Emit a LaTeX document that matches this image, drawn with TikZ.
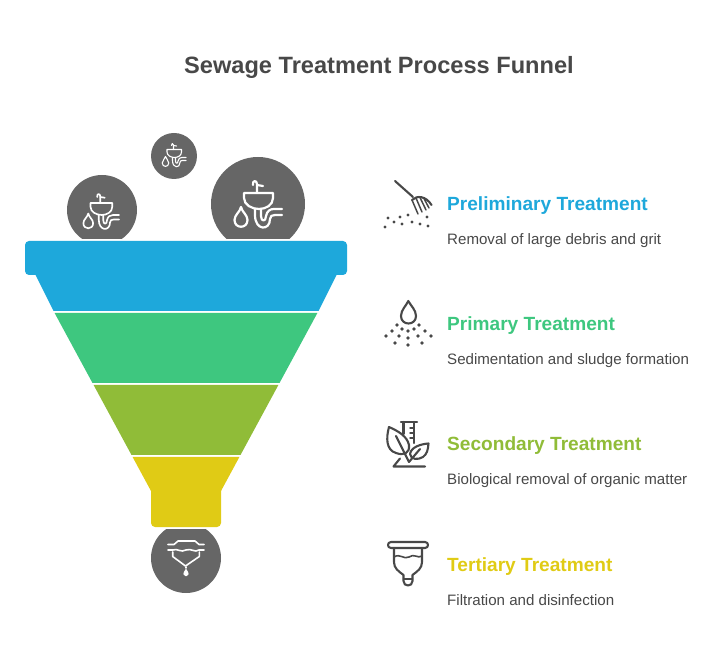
\documentclass[tikz,border=0pt]{standalone}
\usepackage{fontspec}
\setmainfont{Liberation Sans}
\definecolor{rakeblue}{HTML}{1EA8DB}
\definecolor{settlegreen}{HTML}{3EC77F}
\definecolor{bioolive}{HTML}{90BC38}
\definecolor{filteryellow}{HTML}{E0CB15}
\definecolor{hubgray}{HTML}{666666}
\definecolor{inkgray}{HTML}{484848}
\tikzset{
  hubcircle/.style={circle, fill=hubgray, inner sep=0pt},
  headtext/.style={anchor=base west, inner sep=0pt, font=\bfseries\fontsize{19.1}{22}\selectfont},
  bodytext/.style={anchor=base west, inner sep=0pt, text=inkgray, font=\fontsize{15.1}{17}\selectfont},
  iconline/.style={draw=inkgray, line width=2.1pt, line cap=round, line join=round, fill=none},
}
% sink, drop and trap, drawn about the middle of its circle
\newcommand{\sinkicon}[3]{%
  \begin{scope}[shift={(#1,#2)}, scale=#3, draw=white, line width=#3*2.2pt, line cap=round, line join=round]
    \draw (-1,-12) -- (-1,-21) .. controls (-1,-25) and (-6,-25) .. (-5,-20);
    \draw (-1,-20) -- (5,-19);
    \draw (-14,-12) -- (15,-12) -- (15,-7) .. controls (15,0) and (8,4) .. (1,4) .. controls (-6,4) and (-14,0) .. (-14,-7) -- cycle;
    \draw (-17,2) .. controls (-18,7) and (-23.5,10) .. (-23.5,15) .. controls (-23.5,24) and (-10.5,24) .. (-10.5,15) .. controls (-10.5,10) and (-16,7) .. (-17,2) -- cycle;
    \draw (-3,4) -- (-3,10) .. controls (-3,26) and (12,26) .. (12,14) .. controls (12,11) and (14,10) .. (17,10) -- (24,10);
    \draw (3,4) -- (3,11) .. controls (3,17) and (8,17) .. (8,11) .. controls (9,6) and (12,4) .. (16,4) -- (24,4);
  \end{scope}}
\begin{document}
\begin{tikzpicture}[x=1pt, y=-1pt]
  \useasboundingbox (0,0) rectangle (721,660);
  \node [anchor=base, inner sep=0pt, text=inkgray, font=\bfseries\fontsize{23.6}{28}\selectfont] (title) at (379,74) {Sewage Treatment Process Funnel};

  % circles above and below the funnel
  \begin{scope}
    \clip (0,0) rectangle (721,239);
    \node [hubcircle, minimum size=70pt] (sinkleft) at (102,210) {};
    \node [hubcircle, minimum size=46pt] (sinktop) at (174,156) {};
    \node [hubcircle, minimum size=94pt] (sinkright) at (258,204) {};
  \end{scope}
  \sinkicon{101}{212}{0.75}
  \sinkicon{174}{155.5}{0.5}
  \sinkicon{258}{205}{1}
  \begin{scope}
    \clip (0,529) rectangle (721,660);
    \node [hubcircle, minimum size=70pt] (outlet) at (186,558) {};
  \end{scope}
  \begin{scope}[draw=white, line width=1.6pt, line cap=round, line join=round]
    \draw (168,544.5) -- (174,544.5) .. controls (176,544.5) and (176,541) .. (178,541) -- (195,541) .. controls (197,541) and (197,544.5) .. (199,544.5) -- (204,544.5);
    \draw (168,550) -- (173,550) .. controls (177,548) and (181,553) .. (186,550) .. controls (191,548) and (195,553) .. (199,550) -- (204,550);
    \draw (172.7,552) -- (172.7,556.5) -- (185.5,566) -- (199.3,556.5) -- (199.3,552);
    \draw (186,567) -- (186,568);
    \draw [fill=white] (186,570) .. controls (185,572) and (184,573) .. (184.2,574) .. controls (184.6,576) and (187.4,576) .. (187.8,574) .. controls (188,573) and (187,572) .. (186,570) -- cycle;
  \end{scope}

  % funnel bands
  \fill [rakeblue, rounded corners=4pt] (25,241) -- (347,241) -- (347,275) -- (25,275) -- cycle;
  \fill [rakeblue] (34,272) -- (338,272) -- (318.5,311) -- (53.5,311) -- cycle;
  \fill [settlegreen] (54.6,313) -- (317.4,313) -- (279.5,383) -- (92.5,383) -- cycle;
  \fill [bioolive] (93.6,385) -- (278.4,385) -- (240.5,455) -- (131.5,455) -- cycle;
  \fill [filteryellow] (132.6,457) -- (239.4,457) -- (221,491) -- (151,491) -- cycle;
  \fill [filteryellow, rounded corners=4pt] (151,485) -- (221,485) -- (221,527) -- (151,527) -- cycle;

  % labels
  \node [headtext, text=rakeblue] (prelimhead) at (447,211) {Preliminary Treatment};
  \node [bodytext] (prelimbody) at (447,245) {Removal of large debris and grit};
  \node [headtext, text=settlegreen] (primaryhead) at (447,331) {Primary Treatment};
  \node [bodytext] (primarybody) at (447,365) {Sedimentation and sludge formation};
  \node [headtext, text=bioolive] (secondhead) at (447,451) {Secondary Treatment};
  \node [bodytext] (secondbody) at (447,485) {Biological removal of organic matter};
  \node [headtext, text=filteryellow] (tertiaryhead) at (447,571) {Tertiary Treatment};
  \node [bodytext] (tertiarybody) at (447,605) {Filtration and disinfection};

  % rake and grit
  \draw [iconline] (395,181) -- (413,197);
  \draw [iconline] (412,200) .. controls (417,195) and (426,196) .. (431.5,205);
  \draw [iconline, line width=1.5pt] (412,200) -- (418,214) (416,198) -- (422,212) (420,197.5) -- (426,210) (424,198.5) -- (429,208);
  \foreach \px/\py in {388/218, 400/217, 408/215, 427/217, 385/227, 394/222, 402/224, 412/222, 420/224, 428/226}
    \fill [inkgray] (\px,\py) circle [radius=1.6];

  % drop and sediment
  \draw [iconline] (408.3,301) .. controls (406,306) and (401,310) .. (401,316) .. controls (401,326) and (416,326) .. (416,316) .. controls (416,310) and (411,306) .. (408.3,301) -- cycle;
  \foreach \px/\py in {397/325, 419/325, 392/331, 402/329, 408/331, 414/329, 425/331, 386/336, 399/336, 408/338, 418/336, 431/336, 395/343, 422/343, 408/345}
    \fill [inkgray] (\px,\py) circle [radius=1.9];

  % flask and leaves
  \draw [iconline] (401,422) -- (417,422);
  \draw [iconline] (403.5,422) -- (403.5,434) (414,422) -- (414,443);
  \draw [iconline, line width=1.4pt] (410,428) -- (414,428) (410,433) -- (414,433) (410,438) -- (414,438);
  \draw [iconline] (389,427) .. controls (386,438) and (386,450) .. (396,453) .. controls (404,456) and (410,453) .. (409,445) .. controls (407,436) and (398,431) .. (389,427) -- cycle;
  \draw [iconline] (396,436) -- (409,462);
  \draw [iconline] (428.5,443.5) .. controls (421,444) and (411,447) .. (410,454) .. controls (411,460) and (418,460) .. (423,457) .. controls (427,454) and (428,450) .. (428.5,443.5) -- cycle;
  \draw [iconline] (409,462) -- (420,449);
  \draw [iconline] (400,458.5) -- (393.5,466.5) -- (425,466.5);

  % settling cup
  \draw [iconline] (391,542) -- (425,542) .. controls (429,542) and (429,548) .. (425,548) -- (391,548) .. controls (387,548) and (387,542) .. (391,542) -- cycle;
  \draw [iconline] (394,548) -- (394,562) .. controls (394,568) and (398,571) .. (403.5,575) -- (403.5,581) .. controls (403.5,587) and (412.5,587) .. (412.5,581) -- (412.5,575) .. controls (418,571) and (422,568) .. (422,562) -- (422,548);
  \draw [iconline, line width=1.6pt] (394,557) .. controls (400,553) and (404,560) .. (409,557) .. controls (414,553) and (418,559) .. (422,556);
  \draw [iconline, line width=1.6pt] (403.5,579) -- (412.5,579);
\end{tikzpicture}
\end{document}
